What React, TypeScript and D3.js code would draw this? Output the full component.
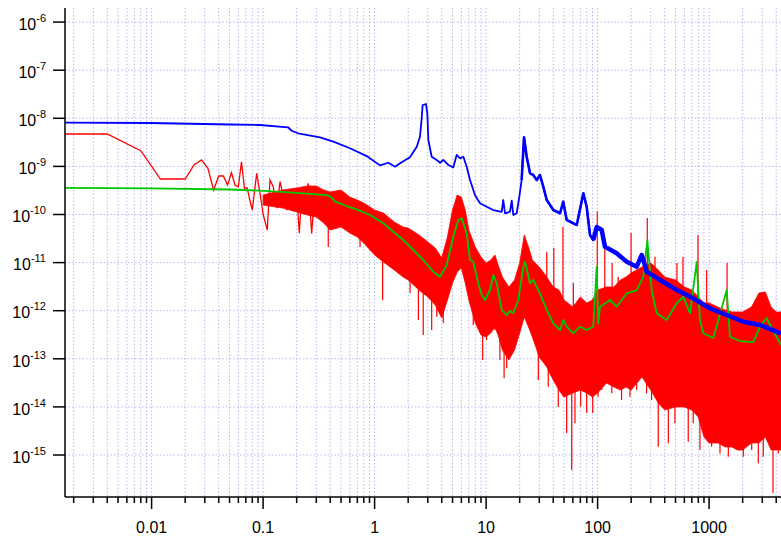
import React from "react";
import * as d3 from "d3";

// ---------------- data ----------------
const blueFreq = [0.00167, 0.0097, 0.0505, 0.0938, 0.167, 0.182, 0.206, 0.324, 0.427, 0.601,
  0.849, 1.117, 1.327, 1.524, 1.69, 2.075, 2.388, 2.553, 2.636, 2.698,
  2.891, 2.972, 3.034, 3.251, 3.606, 3.864, 4.13, 4.581, 5.082, 5.445,
  5.834, 6.252, 6.699, 7.178, 7.943, 8.81, 10.12, 11.61, 13.8, 14.26,
  14.79, 16.37, 16.98, 17.54, 18.79, 19.86, 20.84, 21.88, 23.12, 24.77,
  26.49, 28.44, 30.41, 32.58, 34.99, 40.09, 46.03, 49.2, 52.84, 65.01,
  74.47, 79.8, 85.51, 91.41, 98.17, 108.9, 116.4, 148.3, 182.4, 224.4,
  248.9, 275.4, 363.1, 511.7, 721.1, 1018.6, 1439, 2028, 2864, 4416];
const bluePSD = [8.11e-9, 7.98e-9, 7.43e-9, 7.26e-9, 6.5e-9, 5.45e-9, 4.88e-9, 4.03e-9, 3.27e-9, 2.38e-9,
  1.64e-9, 1.05e-9, 1.19e-9, 9.86e-10, 1.16e-9, 1.55e-9, 2.57e-9, 4.14e-9, 9.23e-9, 1.89e-8,
  1.98e-8, 1.27e-8, 3.54e-9, 1.59e-9, 1.36e-9, 1.19e-9, 1.36e-9, 1.07e-9, 9.57e-10, 1.73e-9,
  1.47e-9, 1.59e-9, 9.86e-10, 5.21e-10, 2.54e-10, 1.71e-10, 1.45e-10, 1.24e-10, 1.14e-10, 2.0e-10,
  1.06e-10, 1.14e-10, 1.94e-10, 9.77e-11, 1.06e-10, 2.34e-10, 5.21e-10, 4.03e-9, 1.59e-9, 7.19e-10,
  6.62e-10, 5.21e-10, 6.62e-10, 3.78e-10, 2.0e-10, 1.24e-10, 1.06e-10, 1.85e-10, 7.69e-11, 6.05e-11,
  2.76e-10, 1.45e-10, 3.75e-11, 2.95e-11, 5.5e-11, 4.76e-11, 2.14e-11, 1.56e-11, 1.04e-11, 8.22e-12,
  1.44e-11, 6.47e-12, 4.35e-12, 2.69e-12, 1.81e-12, 1.12e-12, 8.15e-13, 5.9e-13, 5.05e-13, 3.39e-13];

const greenFreq = [0.00167, 0.0097, 0.0505, 0.0938, 0.187, 0.372, 0.406, 0.442, 0.562, 0.69,
  0.91, 1.197, 1.472, 1.807, 2.223, 2.735, 3.357, 3.864, 4.436, 5.082,
  5.636, 6.039, 6.699, 7.178, 7.674, 8.511, 9.141, 9.772, 10.84, 11.61,
  12.45, 13.8, 15.31, 16.37, 17.54, 19.45, 21.58, 22.34, 23.44, 24.77,
  26.49, 30.41, 34.99, 40.09, 46.03, 49.2, 52.84, 60.53, 69.5, 79.8,
  91.41, 98.17, 101.4, 105.2, 129.1, 148.3, 182.4, 224.4, 257, 279.3,
  305.5, 338.8, 416.9, 511.7, 587.5, 674.5, 774.5, 827.9, 887.2, 1091,
  1439, 1538, 1892, 2489, 2864, 3289, 3639, 4416];
const greenPSD = [3.56e-10, 3.48e-10, 3.31e-10, 3.13e-10, 2.84e-10, 2.54e-10, 2.31e-10, 1.85e-10, 1.5e-10, 1.28e-10,
  9.77e-11, 6.56e-11, 4.39e-11, 2.95e-11, 1.83e-11, 1.13e-11, 6.47e-12, 5.09e-12, 8.91e-12, 3.45e-11,
  7.69e-11, 8.34e-11, 4.06e-11, 1.13e-11, 1.04e-11, 3.72e-12, 2.12e-12, 1.67e-12, 2.69e-12, 5.52e-12,
  3.72e-12, 1.04e-12, 8.15e-13, 1.0e-12, 8.83e-13, 1.67e-12, 8.22e-12, 1.04e-11, 6.47e-12, 3.72e-12,
  4.35e-12, 2.3e-12, 1.04e-12, 5.47e-13, 3.97e-13, 6.41e-13, 4.65e-13, 3.39e-13, 4.65e-13, 3.97e-13,
  4.65e-13, 8.22e-12, 5.47e-13, 1.21e-12, 1.67e-12, 1.21e-12, 2.3e-12, 2.69e-12, 5.09e-12, 2.95e-11,
  2.69e-12, 8.83e-13, 6.41e-13, 1.43e-12, 1.95e-12, 8.83e-13, 1.03e-11, 6.41e-13, 3.39e-13, 2.7e-13,
  2.69e-12, 2.88e-13, 2.34e-13, 2.23e-13, 4.65e-13, 7.05e-13, 4.37e-13, 1.94e-13];

// red, low-frequency part (individual samples)
const redLowFreq = [0.0015, 0.004, 0.008, 0.012, 0.016, 0.02, 0.024, 0.028, 0.032, 0.036,
  0.04, 0.044, 0.048, 0.052, 0.056, 0.06, 0.064, 0.068, 0.072, 0.076,
  0.08, 0.0876, 0.0938, 0.1004, 0.109, 0.1153, 0.1234, 0.1324, 0.1419, 0.1518,
  0.1629, 0.1742, 0.1866, 0.2, 0.2112, 0.2218, 0.2375, 0.2543, 0.2728, 0.2921, 0.3105];
const redLowPSD = [4.72e-9, 4.72e-9, 2.12e-9, 5.47e-10, 5.47e-10, 5.47e-10, 1.07e-9, 1.36e-9, 9.12e-10, 3.23e-10,
  6.31e-10, 6.31e-10, 4.1e-10, 7.4e-10, 4.1e-10, 3.78e-10, 1.25e-9, 3.51e-10, 3.56e-10, 2.0e-10,
  1.24e-10, 7.19e-10, 2.76e-10, 9.77e-11, 4.76e-11, 5.21e-10, 3.78e-10, 1.35e-10, 4.81e-10, 2.34e-10,
  1.24e-10, 2.76e-10, 2.17e-10, 2.76e-10, 4.06e-11, 2.76e-10, 2.0e-10, 4.45e-10, 4.06e-11, 3.78e-10, 1.57e-10];

// red, dense part: min / max envelope per frequency column
const redBandFreq = [0.1, 0.15, 0.2, 0.25, 0.3, 0.35, 0.4, 0.5, 0.6, 0.7,
  0.8, 1, 1.2, 1.5, 1.8, 2, 2.5, 3, 3.5, 4,
  4.5, 5, 5.5, 6, 6.5, 7, 8, 9, 10, 11,
  12, 13, 14, 16, 18, 20, 22, 24, 26, 30,
  35, 40, 45, 50, 60, 70, 80, 90, 100, 120,
  140, 160, 180, 200, 250, 300, 350, 400, 500, 600,
  700, 800, 900, 1000, 1200, 1400, 1600, 1800, 2000, 2400,
  2800, 3200, 3600, 4000, 4500];
const redBandHi = [2.54e-10, 3.23e-10, 3.56e-10, 3.91e-10, 3.91e-10, 3.23e-10, 2.94e-10, 3.23e-10, 2.31e-10, 2.0e-10,
  1.73e-10, 1.24e-10, 1.07e-10, 6.98e-11, 5.5e-11, 5.24e-11, 3.75e-11, 2.68e-11, 2.01e-11, 1.25e-11,
  3.4e-11, 1.24e-10, 2.54e-10, 2.31e-10, 1.24e-10, 4.76e-11, 2.11e-11, 1.31e-11, 9.82e-12, 1.13e-11,
  1.44e-11, 8.09e-12, 5.02e-12, 3.11e-12, 4.35e-12, 9.82e-12, 3.75e-11, 2.11e-11, 1.13e-11, 8.09e-12,
  5.02e-12, 3.11e-12, 2.69e-12, 1.67e-12, 1.19e-12, 1.93e-12, 1.45e-12, 1.67e-12, 2.69e-12, 3.11e-12,
  3.11e-12, 4.35e-12, 5.02e-12, 6.08e-12, 8.09e-12, 9.82e-12, 7.02e-12, 5.02e-12, 4.35e-12, 3.11e-12,
  2.69e-12, 1.93e-12, 1.45e-12, 1.45e-12, 1.19e-12, 1.03e-12, 9.4e-13, 9.4e-13, 9.4e-13, 1.19e-12,
  2.33e-12, 2.45e-12, 1.19e-12, 9.4e-13, 9.4e-13];
const redBandLo = [1.57e-10, 1.36e-10, 1.13e-10, 9.77e-11, 8.87e-11, 6.65e-11, 4.76e-11, 5.5e-11, 4.12e-11, 3.4e-11,
  2.55e-11, 1.44e-11, 1.03e-11, 7.02e-12, 5.02e-12, 4.35e-12, 2.69e-12, 1.93e-12, 1.31e-12, 7.05e-13,
  1.67e-12, 3.77e-12, 6.37e-12, 7.71e-12, 3.77e-12, 1.67e-12, 5.55e-13, 3.13e-13, 2.84e-13, 3.44e-13,
  4.58e-13, 2.84e-13, 1.52e-13, 9.44e-14, 1.52e-13, 3.44e-13, 7.4e-13, 4.58e-13, 2.84e-13, 1.09e-13,
  6.76e-14, 3.62e-14, 2.24e-14, 1.61e-14, 1.95e-14, 2.24e-14, 1.95e-14, 1.61e-14, 1.95e-14, 3.14e-14,
  2.59e-14, 2.24e-14, 2.59e-14, 2.24e-14, 4.19e-14, 2.24e-14, 1.21e-14, 8.63e-15, 9.95e-15, 9.95e-15,
  8.63e-15, 6.17e-15, 2.37e-15, 1.78e-15, 1.78e-15, 1.47e-15, 1.47e-15, 1.27e-15, 1.27e-15, 1.78e-15,
  1.78e-15, 2.37e-15, 1.27e-15, 1.27e-15, 1.27e-15];

// red, hairs hanging below the dense part (frequency, lowest value reached)
const redLowHairFreq = [0.384, 0.74, 1.18, 2.08, 2.47, 2.73, 3.25, 3.61, 4.13, 7.67,
  9.32, 10.1, 12.0, 13.3, 14.5, 15.3, 17.5, 29.4, 36.1, 44.4,
  49.2, 52.8, 58.6, 62.7, 70.5, 79.8, 90.4, 101, 109, 134,
  164, 195, 224, 275, 305, 350, 431, 494, 650, 721,
  828, 918, 1054, 1253, 1487, 1649, 2027, 2410, 2762, 3062,
  3741, 4178];
const redLowHairPSD = [2.1e-11, 2.1e-11, 1.67e-12, 2.33e-12, 6.41e-13, 3.13e-13, 3.97e-13, 7.5e-13, 5.55e-13, 5.05e-13,
  9.44e-14, 2.46e-13, 3.97e-13, 9.44e-14, 3.94e-14, 6.34e-14, 1.52e-13, 3.62e-14, 2.63e-14, 1.01e-14,
  1.63e-14, 2.86e-15, 4.89e-16, 4.56e-15, 1.01e-14, 7.47e-15, 7.47e-15, 1.63e-14, 2.24e-14, 1.92e-14,
  1.39e-14, 1.63e-14, 2.24e-14, 1.92e-14, 1.39e-14, 1.49e-15, 1.75e-15, 4.56e-15, 1.89e-15, 4.56e-15,
  1.27e-15, 2.4e-15, 1.49e-15, 1.08e-15, 9.2e-16, 1.49e-15, 9.2e-16, 1.27e-15, 6.71e-16, 9.2e-16,
  1.62e-16, 1.08e-15];

// red, hairs rising above the dense part (frequency, highest value reached)
const redTopHairFreq = [35, 40.5, 48.9, 60.6, 99.3, 116, 135, 153, 199.5, 279,
  327, 515, 583, 795, 951, 1449];
const redTopHairPSD = [1.66e-11, 2.0e-11, 5.5e-11, 3.77e-12, 1.15e-10, 2.14e-11, 9.82e-12, 5.09e-12, 4.12e-11, 8.45e-11,
  1.33e-11, 9.82e-12, 1.31e-11, 3.75e-11, 7.02e-12, 9.82e-12];

const xMajorTicks = [0.01, 0.1, 1, 10, 100, 1000];
const xMajorLabels = ["0.01", "0.1", "1", "10", "100", "1000"];
const yExponents = [-15, -14, -13, -12, -11, -10, -9, -8, -7, -6];

// ---------------- layout ----------------
const W = 781;
const H = 538;
const PL = 65, PR = 781, PT = 8, PB = 497;
const FONT = "'Liberation Sans', Arial, Helvetica, sans-serif";

// log-log interpolation of a band edge at frequency f
function bandAt(f: number, edge: number[]): number {
  const lf = Math.log10(f);
  const fs = redBandFreq;
  if (f <= fs[0]) return edge[0];
  for (let i = 0; i < fs.length - 1; i++) {
    if (f >= fs[i] && f <= fs[i + 1]) {
      const a = Math.log10(fs[i]);
      const b = Math.log10(fs[i + 1]);
      const t = (lf - a) / (b - a);
      return Math.pow(10, Math.log10(edge[i]) + t * (Math.log10(edge[i + 1]) - Math.log10(edge[i])));
    }
  }
  return edge[edge.length - 1];
}

export default function App() {
  const x = d3.scaleLog().domain([0.001672, 4415]).range([PL, PR]);
  const y = d3.scaleLog().domain([1.34e-16, 1.963e-6]).range([PB, PT]);

  const line = d3.line<[number, number]>().x((d) => x(d[0])).y((d) => y(d[1]));
  const bluePts = blueFreq.map((f, i) => [f, bluePSD[i]] as [number, number]);
  const blueMid = bluePts.filter((d) => d[0] >= 20 && d[0] <= 100);
  const blueHigh = bluePts.filter((d) => d[0] >= 90);
  const greenPts = greenFreq.map((f, i) => [f, greenPSD[i]] as [number, number]);
  const redLowPts = redLowFreq.map((f, i) => [f, redLowPSD[i]] as [number, number]);
  const band = redBandFreq.map((f, i) => ({ f, lo: redBandLo[i], hi: redBandHi[i] }));
  const area = d3
    .area<{ f: number; lo: number; hi: number }>()
    .x((d) => x(d.f))
    .y0((d) => y(d.lo))
    .y1((d) => y(d.hi));

  const [d0, d1] = x.domain();
  const gridX: { v: number; major: boolean }[] = [];
  for (let n = -3; n <= 3; n++) {
    for (let k = 1; k <= 9; k++) {
      const v = k * Math.pow(10, n);
      if (v >= d0 && v <= d1) gridX.push({ v, major: k === 1 });
    }
  }

  const gridColor = "#b8b8f0";

  return (
    <svg
      width={W}
      height={H}
      style={{ position: "absolute", left: 0, top: 0, background: "#fff" }}
      fontFamily={FONT}
    >
      <defs>
        <clipPath id="plotClip">
          <rect x={PL} y={PT} width={PR - PL} height={PB - PT} />
        </clipPath>
      </defs>

      {/* grid */}
      <g stroke={gridColor} strokeWidth={1} strokeDasharray="1.5,2">
        {gridX.map((g, i) => (
          <line key={"gx" + i} x1={x(g.v)} x2={x(g.v)} y1={PT} y2={PB} />
        ))}
        {yExponents.map((e) => (
          <line key={"gy" + e} x1={PL} x2={PR} y1={y(Math.pow(10, e))} y2={y(Math.pow(10, e))} />
        ))}
      </g>

      {/* data */}
      <g clipPath="url(#plotClip)">
        <path d={area(band) || ""} fill="#ff0000" stroke="#ff0000" strokeWidth={0.8} />
        <path d={line(redLowPts) || ""} fill="none" stroke="#ff0000" strokeWidth={1.3} />
        <g stroke="#ff0000" strokeWidth={1.2}>
          {redLowHairFreq.map((f, i) => (
            <line key={"lh" + i} x1={x(f)} x2={x(f)} y1={y(bandAt(f, redBandLo)) - 3} y2={y(redLowHairPSD[i])} />
          ))}
          {redTopHairFreq.map((f, i) => (
            <line key={"th" + i} x1={x(f)} x2={x(f)} y1={y(bandAt(f, redBandHi)) + 3} y2={y(redTopHairPSD[i])} />
          ))}
        </g>
        <path d={line(greenPts) || ""} fill="none" stroke="#00c800" strokeWidth={1.8} strokeLinejoin="round" />
        <path d={line(bluePts) || ""} fill="none" stroke="#0000ff" strokeWidth={1.8} strokeLinejoin="round" />
        <path d={line(blueMid) || ""} fill="none" stroke="#0000ff" strokeWidth={2.6} strokeLinejoin="round" />
        <path d={line(blueHigh) || ""} fill="none" stroke="#0000ff" strokeWidth={4.5} strokeLinejoin="round" />
      </g>

      {/* axes */}
      <g stroke="#000" strokeWidth={1.5}>
        <line x1={PL} x2={PL} y1={PT} y2={PB} />
        <line x1={PL} x2={PR} y1={PB} y2={PB} />
        {gridX.map((g, i) => (
          <line key={"tx" + i} x1={x(g.v)} x2={x(g.v)} y1={PB} y2={PB + (g.major ? 12 : 6)} />
        ))}
        {yExponents.map((e) => (
          <line key={"ty" + e} x1={PL - 12} x2={PL} y1={y(Math.pow(10, e))} y2={y(Math.pow(10, e))} />
        ))}
      </g>

      {/* tick labels */}
      <g fill="#000" fontSize={16}>
        {xMajorTicks.map((v, i) => (
          <text key={"lx" + i} x={x(v)} y={533} textAnchor="middle">
            {xMajorLabels[i]}
          </text>
        ))}
        {yExponents.map((e) => (
          <text key={"ly" + e} x={46} y={y(Math.pow(10, e)) + 7.7} textAnchor="end">
            10
            <tspan fontSize={11} dy={-8}>
              {String(e)}
            </tspan>
          </text>
        ))}
      </g>
    </svg>
  );
}
